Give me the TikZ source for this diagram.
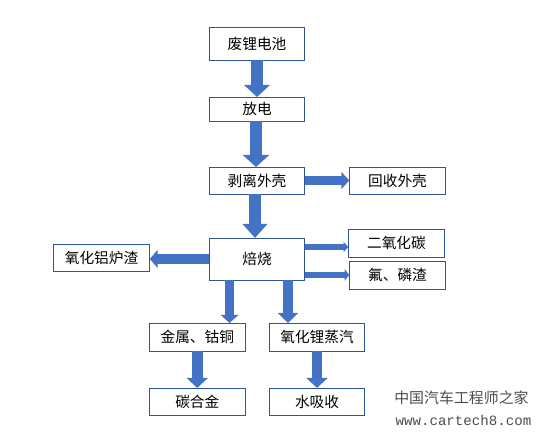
\documentclass[tikz,border=0pt]{standalone}
\usepackage{fontspec}
\setmainfont{Noto Sans CJK SC}
\newfontfamily\wmfont{Liberation Mono}
\usetikzlibrary{arrows.meta, positioning}
\definecolor{boxline}{HTML}{2F5597}
\definecolor{arrblue}{HTML}{4472C4}

\begin{document}
\begin{tikzpicture}[
            box/.style={rectangle, draw=boxline, line width=0.7pt, fill=white, outer sep=0pt,
                      minimum width=71.5pt, inner sep=0pt, font=\fontsize{11}{13}\selectfont},
            sidebox/.style={box, minimum width=72.25pt},
            bigarr/.style n args={3}{-{Triangle[length=#3, width=#2]}, line width=#1, arrblue},
            wm/.style={inner sep=0pt, text=black!70}]
          \useasboundingbox (0,0) rectangle (405pt,-327pt);
          \node[box, minimum height=24.75pt] (battery) at (192.75pt,-32.6pt) {废锂电池};
          \node[box, minimum height=18pt, below=27.75pt of battery] (discharge) {放电};
          \node[box, minimum height=20.25pt, below=34.5pt of discharge] (peel) {剥离外壳};
          \node[sidebox, minimum height=20.25pt, right=33.5pt of peel] (shell) {回收外壳};
          \node[box, minimum height=31.5pt, below=33pt of peel] (burn) {焙烧};
          \node[sidebox, minimum height=21pt, right=32.7pt of burn, yshift=12pt] (co2) {二氧化碳};
          \node[sidebox, minimum height=21pt, right=33.5pt of burn, yshift=-12pt] (slag) {氟、磷渣};
          \node[sidebox, minimum height=20.25pt, left=44.7pt of burn, yshift=1.1pt] (alu) {氧化铝炉渣};
          \node[sidebox, minimum height=21pt, below=32.25pt of burn, xshift=-44.8pt] (metal) {金属、钴铜};
          \node[box, minimum height=21pt, below=32.25pt of burn, xshift=45pt] (lithium) {氧化锂蒸汽};
          \node[sidebox, minimum height=20.25pt, below=27.75pt of metal] (alloy) {碳合金};
          \node[box, minimum height=20.25pt, below=27.75pt of lithium] (water) {水吸收};
          \draw[bigarr={9pt}{19pt}{9pt}] (battery) -- (discharge);
          \draw[bigarr={9pt}{19.5pt}{9pt}] ([xshift=-0.75pt]discharge.south) -- ([xshift=-0.75pt]peel.north);
          \draw[bigarr={9pt}{18pt}{10.5pt}] ([xshift=-1.5pt]peel.south) -- ([xshift=-1.5pt]burn.north);
          \draw[bigarr={6.5pt}{12.5pt}{6pt}] (peel) -- (shell);
          \draw[bigarr={7.5pt}{13.5pt}{6pt}] (burn.west) -- ([yshift=-1.1pt]alu.east);
          \draw[bigarr={4pt}{7.5pt}{3.5pt}] ([yshift=9pt]burn.east) -- ([yshift=-3pt]co2.west);
          \draw[bigarr={4.5pt}{8.5pt}{3.5pt}] ([yshift=-12pt]burn.east) -- (slag.west);
          \draw[bigarr={7pt}{13pt}{6pt}] ([xshift=-20.6pt]burn.south) -- ([xshift=24.2pt]metal.north);
          \draw[bigarr={7.5pt}{15pt}{7.5pt}] ([xshift=23.25pt]burn.south) -- ([xshift=-21.75pt]lithium.north);
          \draw[bigarr={8pt}{15.5pt}{7.5pt}] (metal) -- (alloy);
          \draw[bigarr={8pt}{15.5pt}{7.5pt}] (lithium) -- (water);
          \node[wm, font=\fontsize{11.2}{13}\selectfont, anchor=west] (wmcn) at (295.5pt,-298.5pt) {中国汽车工程师之家};
          \node[wm, font=\wmfont\fontsize{10.6}{12}\selectfont, below=7.5pt of wmcn, xshift=1.5pt] (wmurl) {www.cartech8.com};
        \end{tikzpicture}
\end{document}
